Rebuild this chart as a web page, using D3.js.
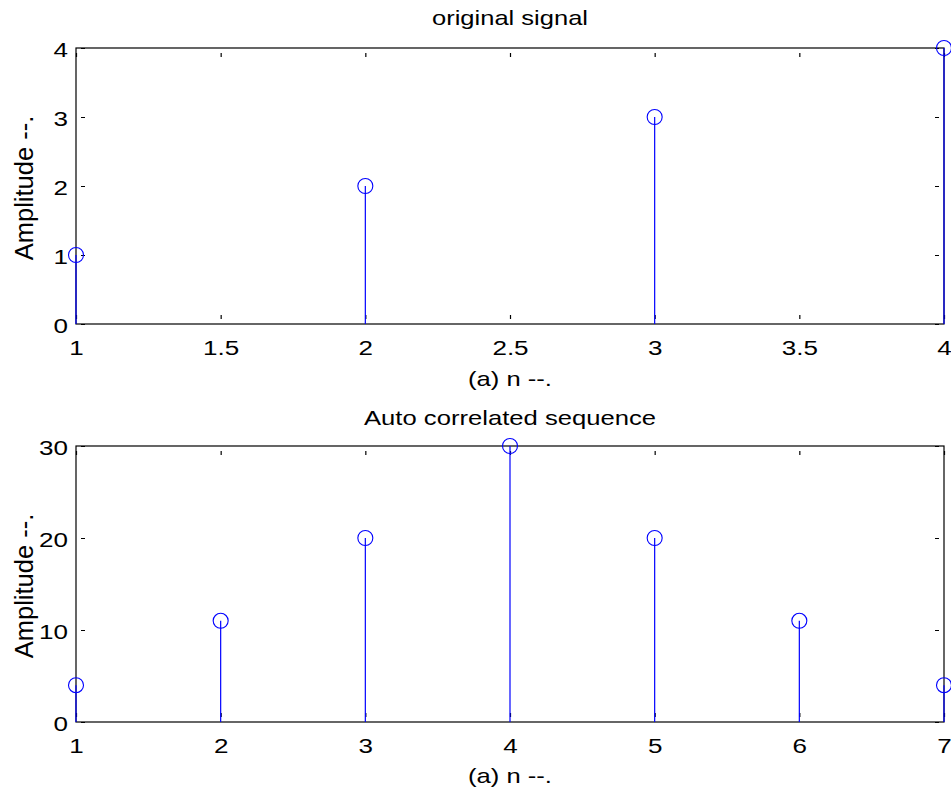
<!DOCTYPE html>
<html>
<head>
<meta charset="utf-8">
<script src="https://cdn.jsdelivr.net/npm/d3@7"></script>
<style>
  html, body { margin: 0; padding: 0; background: #fff; }
  svg { display: block; font-family: "Liberation Sans", Arial, sans-serif; }
</style>
</head>
<body>
<svg id="chart" width="951" height="795"></svg>
<script>
// ---- data ----
const signalN = [1, 2, 3, 4];
const signalValues = [1, 2, 3, 4];
const autoN = [1, 2, 3, 4, 5, 6, 7];
const autoValues = [4, 11, 20, 30, 20, 11, 4];
const topXTicks = [1, 1.5, 2, 2.5, 3, 3.5, 4];
const topYTicks = [0, 1, 2, 3, 4];
const botXTicks = [1, 2, 3, 4, 5, 6, 7];
const botYTicks = [0, 10, 20, 30];
const titles = ["original signal", "Auto correlated sequence"];
const xLabel = "(a) n --.";
const yLabel = "Amplitude --.";

const svg = d3.select("#chart");
const blue = "#0000ff";
const SX = 1.24; // horizontal stretch of the original raster text

function panel(cfg) {
  const { left, right, top, bottom, xDomain, yDomain, xTicks, yTicks, xs, ys, title, titleY, xLabY, titleLen } = cfg;
  const x = d3.scaleLinear().domain(xDomain).range([left, right]);
  const y = d3.scaleLinear().domain(yDomain).range([bottom, top]);
  const g = svg.append("g");

  // box
  g.append("rect").attr("x", left).attr("y", top)
    .attr("width", right - left).attr("height", bottom - top)
    .attr("fill", "none").attr("stroke", "#000").attr("stroke-width", 1.2);

  const tickStyle = sel => sel.selectAll(".tick line")
    .attr("stroke", "#000").attr("stroke-width", 1.2).attr("stroke-dasharray", "0,5,4");

  // bottom axis (ticks inside)
  const ax = g.append("g").attr("transform", `translate(0,${bottom})`)
    .call(d3.axisBottom(x).tickValues(xTicks).tickSizeInner(-9).tickSizeOuter(0).tickPadding(0).tickFormat(d3.format("")));
  ax.select(".domain").remove();
  tickStyle(ax);
  ax.selectAll(".tick text").attr("y", 31).attr("dy", null)
    .attr("font-size", 21).attr("fill", "#000")
    .attr("font-family", "Liberation Sans, Arial, sans-serif")
    .attr("transform", `scale(${SX},1)`);

  // top axis ticks
  const axT = g.append("g").attr("transform", `translate(0,${top})`)
    .call(d3.axisTop(x).tickValues(xTicks).tickSizeInner(-9).tickSizeOuter(0).tickFormat(""));
  axT.select(".domain").remove();
  tickStyle(axT);

  // left axis
  const ay = g.append("g").attr("transform", `translate(${left},0)`)
    .call(d3.axisLeft(y).tickValues(yTicks).tickSizeInner(-9).tickSizeOuter(0).tickPadding(0).tickFormat(d3.format("")));
  ay.select(".domain").remove();
  tickStyle(ay);
  ay.selectAll(".tick text").attr("x", -8 / SX).attr("dy", null).attr("y", 8)
    .attr("font-size", 21).attr("fill", "#000")
    .attr("font-family", "Liberation Sans, Arial, sans-serif")
    .attr("transform", `scale(${SX},1)`);

  // right axis ticks
  const ayR = g.append("g").attr("transform", `translate(${right},0)`)
    .call(d3.axisRight(y).tickValues(yTicks).tickSizeInner(-9).tickSizeOuter(0).tickFormat(""));
  ayR.select(".domain").remove();
  tickStyle(ayR);

  // stems
  const data = xs.map((d, i) => ({ n: d, v: ys[i] }));
  g.selectAll("line.stem").data(data).join("line").attr("class", "stem")
    .attr("x1", d => x(d.n)).attr("x2", d => x(d.n))
    .attr("y1", y(0)).attr("y2", d => y(d.v))
    .attr("stroke", blue).attr("stroke-width", 1.2);
  g.selectAll("circle.mk").data(data).join("circle").attr("class", "mk")
    .attr("cx", d => x(d.n)).attr("cy", d => y(d.v)).attr("r", 7.5)
    .attr("fill", "none").attr("stroke", blue).attr("stroke-width", 1.1);

  const cx = (left + right) / 2;
  g.append("text").attr("x", cx).attr("y", titleY).attr("text-anchor", "middle")
    .attr("font-size", 21).attr("textLength", titleLen).attr("lengthAdjust", "spacingAndGlyphs")
    .text(title);
  g.append("text").attr("x", cx).attr("y", xLabY).attr("text-anchor", "middle")
    .attr("font-size", 21).attr("textLength", 84).attr("lengthAdjust", "spacingAndGlyphs")
    .text(xLabel);
  g.append("text").attr("transform", `translate(32.5,${(top + bottom) / 2 + 2}) rotate(-90)`)
    .attr("text-anchor", "middle").attr("font-size", 25.5)
    .text(yLabel);
}

panel({ left: 76, right: 944, top: 48, bottom: 324,
  xDomain: [1, 4], yDomain: [0, 4], xTicks: topXTicks, yTicks: topYTicks,
  xs: signalN, ys: signalValues, title: titles[0], titleY: 25, xLabY: 386, titleLen: 156 });
panel({ left: 76, right: 944, top: 446, bottom: 722,
  xDomain: [1, 7], yDomain: [0, 30], xTicks: botXTicks, yTicks: botYTicks,
  xs: autoN, ys: autoValues, title: titles[1], titleY: 425, xLabY: 783, titleLen: 292 });
</script>
</body>
</html>
